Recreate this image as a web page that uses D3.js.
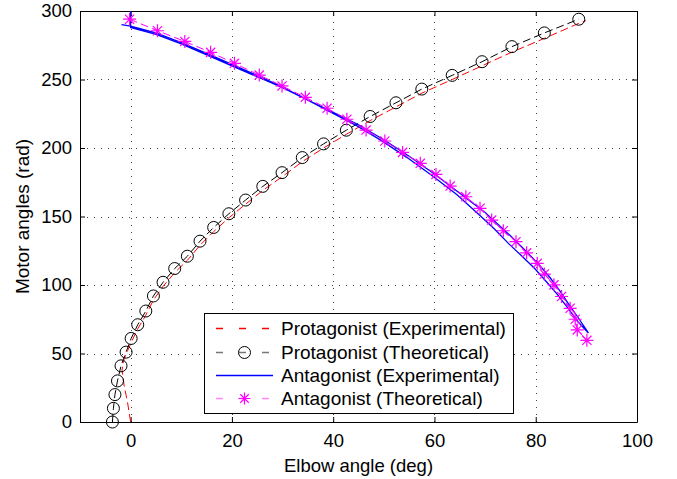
<!DOCTYPE html>
<html lang="en">
<head>
  <meta charset="UTF-8">
  <title>Motor angles vs elbow angle</title>
  <script src='https://d3js.org/d3.v7.min.js'></script>
  <style>
    body { margin: 0; background: #fff; }
    text { font-family: 'Liberation Sans', Arial, Helvetica, sans-serif; }
  </style>
</head>
<body>
</body>
<script>
  const width = 677, height = 479;
  const margin = {left: 80, right: 40, top: 11, bottom: 57};

  // data
  const xTicks = [0, 20, 40, 60, 80, 100];
  const yTicks = [0, 50, 100, 150, 200, 250, 300];

  // protagonist, theoretical (circles)
  const protTheoX = [-3.6, -3.4, -3.1, -2.6, -1.9, -0.9, 0.1, 1.4, 3.0, 4.5, 6.4, 8.7, 11.2, 13.7, 16.4,
    19.4, 22.7, 26.1, 29.9, 33.9, 38.1, 42.6, 47.3, 52.4, 57.5, 63.5, 69.4, 75.3, 81.7, 88.5];
  const protTheoY = [0, 10, 20, 30, 41, 51, 61, 71, 81, 92, 102, 112, 121, 132, 142,
    152, 162, 172, 182, 193, 203, 213, 223, 233, 243, 253, 263, 274, 284, 294];

  // protagonist, experimental (red dashed)
  const protExpX = [0, -0.6, -1.3, -1.7, -1.3, -0.6, 0.1, 1.4, 3.0, 4.5, 6.4, 8.7, 11.2, 13.7, 16.4,
    19.4, 22.7, 26.1, 29.9, 33.9, 38.1, 42.6, 47.3, 52.4, 57.5, 63.5, 69.4, 75.3, 81.7, 88.5, 89.9];
  const protExpY = [0, 14, 27, 38, 46, 52, 58, 68, 78, 89, 99, 109, 118, 129, 139,
    149, 159, 169, 179, 190, 200, 210, 220, 230, 240, 250, 260, 270, 280, 291, 293];

  // antagonist, theoretical (stars)
  const antTheoX = [-0.2, 5.3, 10.7, 15.8, 20.5, 25.4, 29.9, 34.5, 38.8, 42.7, 46.5, 50.2, 53.7, 57.2, 60.3,
    63.1, 66.2, 69.0, 71.3, 73.6, 76.1, 78.2, 80.3, 81.7, 83.6, 85.1, 86.8, 87.8, 88.2, 90.1];
  const antTheoY = [294, 285.6, 277.8, 269.8, 261.8, 253.2, 245.3, 237, 229, 221, 213.1, 205.1, 196.8, 188.8, 180.7,
    172.2, 164.4, 156, 147.4, 139.6, 131.6, 123.5, 115.8, 108, 100.1, 91.6, 83, 75, 67.2, 59.6];

  // antagonist, experimental (blue loop: down then back up)
  const antExpX = [0, 0, 5, 10, 15, 20, 25, 30, 35, 40, 45, 50, 55, 60, 65, 70, 75, 78, 80.6, 82.7, 84.7, 86.7, 88.6, 90.4,
    88.4, 86.4, 84.3, 82.2, 79.8, 77.3, 74.7, 71.8, 69.2, 64.4, 59.5, 54.6, 49.7, 44.8, 39.9, 35, 30, 25, 20, 15, 10, 5, 0, -1.8];
  const antExpY = [300, 288, 283, 276, 268, 260, 252, 244, 235, 226, 217, 206, 194, 181, 167, 153, 136, 125, 115, 106, 96, 85, 75, 65,
    73, 83, 93, 102, 112, 121, 130, 141, 150, 166, 180, 193, 205, 216, 225.5, 235, 244.5, 253, 261, 269, 277, 284, 289, 290];

  const legendLabels = ['Protagonist (Experimental)', 'Protagonist (Theoretical)',
    'Antagonist (Experimental)', 'Antagonist (Theoretical)'];

  const svg = d3.select('body').append('svg').attr('width', width).attr('height', height);

  const x = d3.scaleLinear().domain([-10, 100]).range([margin.left, width - margin.right]);
  const y = d3.scaleLinear().domain([0, 300]).range([height - margin.bottom, margin.top]);

  const x0 = x.range()[0], x1 = x.range()[1], y0 = y.range()[0], y1 = y.range()[1];

  // grid
  const grid = svg.append('g').attr('stroke', '#444').attr('stroke-width', 1)
    .attr('stroke-dasharray', '1,6').attr('fill', 'none');
  grid.selectAll('.gx').data(xTicks.filter(d => d > -10 && d < 100)).join('line')
    .attr('x1', d => Math.round(x(d)) + 0.5).attr('x2', d => Math.round(x(d)) + 0.5)
    .attr('y1', y0).attr('y2', y1);
  grid.selectAll('.gy').data(yTicks.filter(d => d > 0 && d < 300)).join('line')
    .attr('y1', d => Math.round(y(d)) + 0.5).attr('y2', d => Math.round(y(d)) + 0.5)
    .attr('x1', x0).attr('x2', x1);

  // axes (ticks inward, mirrored on top / right)
  const tl = 5;
  const xb = svg.append('g').attr('transform', `translate(0,${y0})`)
    .call(d3.axisBottom(x).tickValues(xTicks).tickSizeInner(-tl).tickSizeOuter(0).tickPadding(12));
  const xt = svg.append('g').attr('transform', `translate(0,${y1})`)
    .call(d3.axisTop(x).tickValues(xTicks).tickSizeInner(-tl).tickSizeOuter(0).tickFormat(''));
  const yl = svg.append('g').attr('transform', `translate(${x0},0)`)
    .call(d3.axisLeft(y).tickValues(yTicks).tickSizeInner(-tl).tickSizeOuter(0).tickPadding(8));
  const yr = svg.append('g').attr('transform', `translate(${x1},0)`)
    .call(d3.axisRight(y).tickValues(yTicks).tickSizeInner(-tl).tickSizeOuter(0).tickFormat(''));
  [xb, xt, yl, yr].forEach(g => {
    g.select('.domain').attr('stroke', '#000');
    g.selectAll('.tick line').attr('stroke', '#000');
    g.selectAll('text').attr('font-size', 18.5).attr('fill', '#000')
      .attr('font-family', "'Liberation Sans', Arial, sans-serif");
  });

  // axis labels
  svg.append('text').attr('x', (x0 + x1) / 2).attr('y', 472).attr('text-anchor', 'middle')
    .attr('font-size', 18.5).text('Elbow angle (deg)');
  svg.append('text').attr('transform', `translate(29,${(y0 + y1) / 2}) rotate(-90)`)
    .attr('text-anchor', 'middle').attr('font-size', 19).text('Motor angles (rad)');

  const plot = svg.append('g');
  const line = d3.line().x(d => x(d[0])).y(d => y(d[1]));
  const zip = (a, b) => a.map((v, i) => [v, b[i]]);

  const protTheo = zip(protTheoX, protTheoY);
  const protExp = zip(protExpX, protExpY);
  const antTheo = zip(antTheoX, antTheoY);
  const antExp = zip(antExpX, antExpY);

  plot.append('path').datum(protTheo).attr('d', line).attr('fill', 'none')
    .attr('stroke', '#000').attr('stroke-width', 1).attr('stroke-dasharray', '8,4');
  plot.append('path').datum(protExp).attr('d', line).attr('fill', 'none')
    .attr('stroke', '#ff0000').attr('stroke-width', 1).attr('stroke-dasharray', '8,4');
  plot.append('path').datum(antExp).attr('d', line).attr('fill', 'none')
    .attr('stroke', '#0000ff').attr('stroke-width', 1.3);
  plot.append('path').datum(antTheo).attr('d', line).attr('fill', 'none')
    .attr('stroke', '#ff00ff').attr('stroke-width', 1).attr('stroke-dasharray', '8,4');

  function star(g, r, color) {
    const a = r * Math.SQRT1_2;
    g.append('path')
      .attr('d', `M${-r},0H${r}M0,${-r}V${r}M${-a},${-a}L${a},${a}M${-a},${a}L${a},${-a}`)
      .attr('stroke', color).attr('stroke-width', 1.2).attr('fill', 'none');
  }

  plot.selectAll('.circ').data(protTheo).join('circle')
    .attr('cx', d => x(d[0])).attr('cy', d => y(d[1])).attr('r', 6)
    .attr('fill', 'none').attr('stroke', '#000').attr('stroke-width', 1);

  plot.selectAll('.star').data(antTheo).join('g')
    .attr('transform', d => `translate(${x(d[0])},${y(d[1])})`)
    .each(function() { star(d3.select(this), 6.5, '#ff00ff'); });

  // legend
  const lg = svg.append('g').attr('transform', 'translate(204,313)');
  lg.append('rect').attr('x', 0.5).attr('y', 0.5).attr('width', 309).attr('height', 100)
    .attr('fill', '#fff').attr('stroke', '#000').attr('stroke-width', 1);
  const rowY = [15, 39, 62, 85];
  const styles = [
    {stroke: '#ff0000', dash: '7,16'},
    {stroke: '#777', dash: '7,16', marker: 'circle'},
    {stroke: '#0000ff', dash: null},
    {stroke: '#ff88ff', dash: '7,16', marker: 'star'}
  ];
  legendLabels.forEach((lab, i) => {
    const row = lg.append('g').attr('transform', `translate(0,${rowY[i]})`);
    row.append('line').attr('x1', 12).attr('x2', 69).attr('y1', 0.5).attr('y2', 0.5)
      .attr('stroke', styles[i].stroke).attr('stroke-width', 1.3)
      .attr('stroke-dasharray', styles[i].dash);
    if (styles[i].marker === 'circle') {
      row.append('circle').attr('cx', 40.5).attr('cy', 0.5).attr('r', 6)
        .attr('fill', 'none').attr('stroke', '#000');
    } else if (styles[i].marker === 'star') {
      star(row.append('g').attr('transform', 'translate(40.5,0.5)'), 6, '#ff00ff');
    }
    row.append('text').attr('x', 77).attr('y', 0).attr('dy', '0.35em')
      .attr('font-size', 19).text(lab);
  });
</script>
</html>
